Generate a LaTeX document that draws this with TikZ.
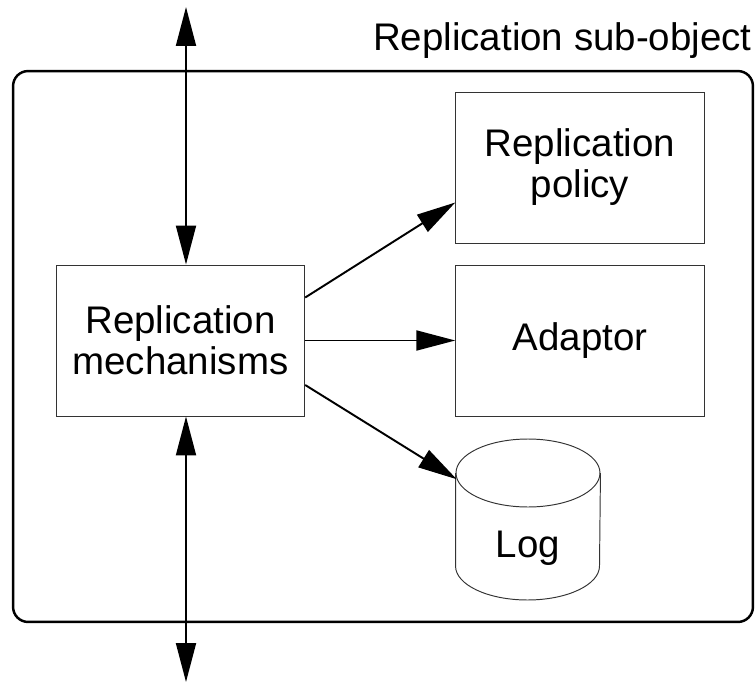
\documentclass[tikz,border=0pt]{standalone}
\usepackage{fontspec}
\setmainfont{Liberation Sans}
\usetikzlibrary{
  shapes.geometric
  , arrows.meta
  , positioning
}
\newcommand\boxfont{\fontsize{21.9}{23.3}\selectfont}

\tikzset{
  box/.style={draw=black!80, line width=0.55pt,
    minimum width=4.97cm, minimum height=3.02cm,
    align=center, font=\boxfont},
  arr/.style={-{Triangle[length=0.78cm,width=0.4cm]}, line width=1.1pt},
  dblarr/.style={{Triangle[length=0.78cm,width=0.4cm]}-{Triangle[length=0.78cm,width=0.4cm]},
    line width=1.1pt},
}

\begin{document}
\begin{tikzpicture}[x=0.02cm, y=-0.02cm]
  \useasboundingbox (0,0) rectangle (755,683);

  % enclosing sub-object
  \node [draw, line width=1.4pt, rounded corners=0.3cm,
    minimum width=14.8cm, minimum height=11.02cm] (frame) at (383,346.5) {};
  \node [anchor=base east, inner sep=0pt, font=\boxfont] (title) at (752,50) {Replication sub-object};

  % parts
  \node [box] (mech) at (180.5,340.5) {Replication\\mechanisms};
  \node [box] (policy) at (580,167.5) {Replication\\policy};
  \node [box] (adaptor) at (580,340.5) {Adaptor};

  % log drum: lid, then body
  \node [draw=black!80, line width=0.55pt, ellipse, inner sep=0pt,
    minimum width=2.88cm, minimum height=1.36cm] (lid) at (528,473) {};
  \draw[black!80, line width=0.55pt] (lid.west) -- ++(0,93)
    arc[start angle=180, end angle=360, x radius=1.44cm, y radius=0.68cm]
    -- (lid.east);
  \node [anchor=base, font=\boxfont] (log) at (528,557) {Log};

  % in and out of the sub-object
  \coordinate (upEnd) at (186,7);
  \coordinate (downEnd) at (186,682);
  \draw[dblarr] (upEnd) -- (upEnd |- mech.north);
  \draw[dblarr] (upEnd |- mech.south) -- (downEnd);

  % mechanisms use the others
  \draw[arr] ([yshift=0.86cm]mech.east) -- ([yshift=-0.7cm]policy.west);
  \draw[arr] (mech.east) -- (adaptor.west);
  \draw[arr] ([yshift=-0.89cm]mech.east) -- (lid.185);
\end{tikzpicture}
\end{document}
